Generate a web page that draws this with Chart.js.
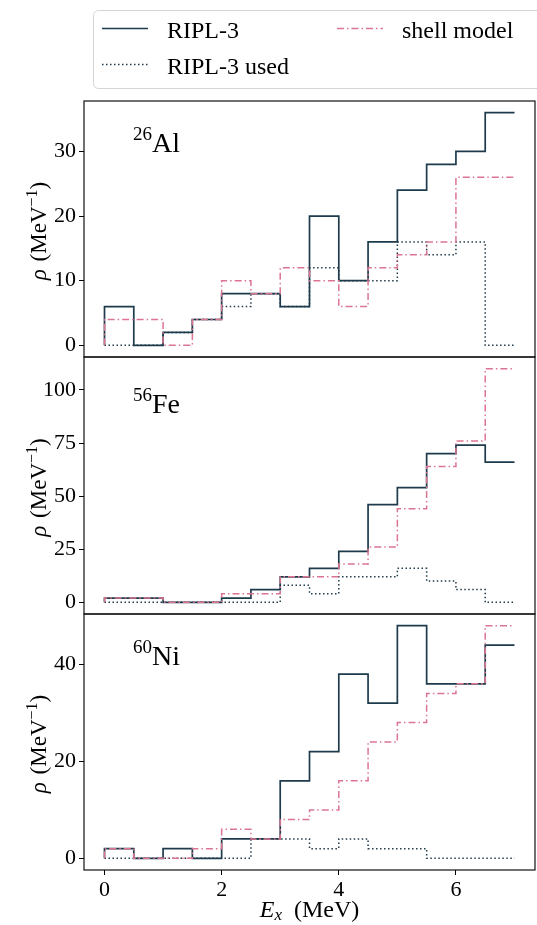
<!DOCTYPE html>
<html><head><meta charset="utf-8">
<script src="https://cdn.jsdelivr.net/npm/chart.js@4.4.1/dist/chart.umd.min.js"></script>
<style>
html,body{margin:0;padding:0;background:#fff;}
#wrap{position:relative;width:537px;height:925px;overflow:hidden;background:#fff;}
canvas{position:absolute;left:0;}
#legend{position:absolute;left:0;top:0;}
</style></head><body>
<div id="wrap">
<canvas id="c1" style="top:81px" width="537" height="296"></canvas>
<canvas id="c2" style="top:337px" width="537" height="297"></canvas>
<canvas id="c3" style="top:594px" width="537" height="331"></canvas>
<svg id="legend" width="537" height="95" xmlns="http://www.w3.org/2000/svg"></svg>
</div>
<script>
// ---- data ----
const energyEdges = [0, 0.5, 1, 1.5, 2, 2.5, 3, 3.5, 4, 4.5, 5, 5.5, 6, 6.5, 7];
const xTicks = [0, 2, 4, 6];
const seriesNames = ['RIPL-3', 'RIPL-3 used', 'shell model'];

const alRipl  = [6, 0, 2, 4, 8, 8, 6, 20, 10, 16, 24, 28, 30, 36];
const alUsed  = [0, 0, 2, 4, 6, 8, 6, 12, 10, 10, 16, 14, 16, 0];
const alShell = [4, 4, 0, 4, 10, 8, 12, 10, 6, 12, 14, 16, 26, 26];
const alTicks = [0, 10, 20, 30];

const feRipl  = [2, 2, 0, 0, 2, 6, 12, 16, 24, 46, 54, 70, 74, 66];
const feUsed  = [0, 0, 0, 0, 0, 0, 8, 4, 12, 12, 16, 10, 6, 0];
const feShell = [2, 2, 0, 0, 4, 4, 12, 12, 18, 26, 44, 64, 76, 110];
const feTicks = [0, 25, 50, 75, 100];

const niRipl  = [2, 0, 2, 0, 4, 4, 16, 22, 38, 32, 48, 36, 36, 44];
const niUsed  = [0, 0, 0, 0, 0, 4, 4, 2, 4, 2, 2, 0, 0, 0];
const niShell = [2, 0, 0, 2, 6, 4, 8, 10, 16, 24, 28, 34, 36, 48];
const niTicks = [0, 20, 40];

const massNumbers = ['26', '56', '60'];
const elementSymbols = ['Al', 'Fe', 'Ni'];

// ---- styling ----
const C_DARK = '#1e3b4c';
const C_PINK = '#dc7592';
const FONT = '"Liberation Serif", "Times New Roman", serif';
const DOTTED = [1.5, 2.5];
const DASHDOT = [7, 3, 1.5, 3];

function stepPoints(bins) {
  return energyEdges.map((x, i) => ({ x: x, y: i === 0 ? 0 : bins[i - 1] }));
}

function drawRich(ctx, parts, x, y, center) {
  let total = 0;
  parts.forEach(p => { ctx.font = p.f; p.w = ctx.measureText(p.t).width + (p.gap || 0); total += p.w; });
  let cx = center ? x - total / 2 : x;
  parts.forEach(p => {
    ctx.font = p.f;
    ctx.fillText(p.t, cx, y + (p.dy || 0));
    cx += p.w;
  });
}

const framePlugin = {
  id: 'frame',
  afterDatasetsDraw(chart) {
    const a = chart.chartArea, ctx = chart.ctx;
    ctx.save();
    ctx.strokeStyle = '#111';
    ctx.lineWidth = 1.2;
    ctx.strokeRect(a.left, a.top, a.right - a.left, a.bottom - a.top);
    ctx.restore();
  }
};

const textPlugin = {
  id: 'texts',
  afterDraw(chart, args, opts) {
    const a = chart.chartArea, ctx = chart.ctx;
    ctx.save();
    ctx.fillStyle = '#000';
    ctx.textBaseline = 'alphabetic';
    ctx.textAlign = 'left';
    // y-axis title
    ctx.save();
    ctx.translate(46, (a.top + a.bottom) / 2 + 2);
    ctx.rotate(-Math.PI / 2);
    drawRich(ctx, [
      { t: 'ρ', f: 'italic 23px ' + FONT, gap: 2 },
      { t: ' (MeV', f: '23px ' + FONT },
      { t: '−1', f: '16px ' + FONT, dy: -9 },
      { t: ')', f: '23px ' + FONT }
    ], 0, 0, true);
    ctx.restore();
    // nucleus label
    drawRich(ctx, [
      { t: opts.mass, f: '19px ' + FONT, dy: -12 },
      { t: opts.symbol, f: '28px ' + FONT }
    ], a.left + 49, a.top + opts.labelY, false);
    // x-axis title
    if (opts.showX) {
      drawRich(ctx, [
        { t: 'E', f: 'italic 24px ' + FONT },
        { t: 'x', f: 'italic 17px ' + FONT, dy: 3, gap: 6 },
        { t: ' (MeV)', f: '24px ' + FONT }
      ], (a.left + a.right) / 2, a.bottom + 47, true);
    }
    ctx.restore();
  }
};

function makeChart(id, cfg) {
  return new Chart(document.getElementById(id), {
    type: 'line',
    data: {
      datasets: [
        { label: seriesNames[0], data: stepPoints(cfg.ripl), borderColor: C_DARK, borderWidth: 1.7,
          stepped: 'after', pointRadius: 0, fill: false, order: 3 },
        { label: seriesNames[1], data: stepPoints(cfg.used), borderColor: C_DARK, borderWidth: 1.5,
          borderDash: DOTTED, stepped: 'after', pointRadius: 0, fill: false, order: 2 },
        { label: seriesNames[2], data: stepPoints(cfg.shell), borderColor: C_PINK, borderWidth: 1.5,
          borderDash: DASHDOT, stepped: 'after', pointRadius: 0, fill: false, order: 1 }
      ]
    },
    options: {
      responsive: false,
      animation: false,
      events: [],
      layout: { padding: { top: 20, bottom: cfg.showX ? 0 : 20, left: 0, right: 2 } },
      plugins: {
        legend: { display: false },
        tooltip: { enabled: false },
        texts: { mass: cfg.mass, symbol: cfg.symbol, labelY: cfg.labelY, showX: cfg.showX }
      },
      scales: {
        x: {
          type: 'linear', min: -0.35, max: 7.35, display: cfg.showX,
          afterBuildTicks: s => { s.ticks = xTicks.map(v => ({ value: v })); },
          afterFit: s => { s.height = cfg.showX ? 55 : 0; },
          grid: { drawOnChartArea: false, drawTicks: true, tickLength: 5, color: '#000', lineWidth: 1 },
          border: { display: false },
          ticks: { font: { family: FONT, size: 22 }, color: '#000', padding: 2, maxRotation: 0 }
        },
        y: {
          type: 'linear', min: cfg.min, max: cfg.max,
          afterBuildTicks: s => { s.ticks = cfg.ticks.map(v => ({ value: v })); },
          afterFit: s => { s.width = 84; },
          grid: { drawOnChartArea: false, drawTicks: true, tickLength: 5, color: '#000', lineWidth: 1 },
          border: { display: false },
          ticks: { font: { family: FONT, size: 22 }, color: '#000', padding: 3 }
        }
      }
    },
    plugins: [framePlugin, textPlugin]
  });
}

makeChart('c1', { ripl: alRipl, used: alUsed, shell: alShell, ticks: alTicks, min: -1.8, max: 37.8,
  mass: massNumbers[0], symbol: elementSymbols[0], labelY: 51, showX: false });
makeChart('c2', { ripl: feRipl, used: feUsed, shell: feShell, ticks: feTicks, min: -5.5, max: 115.5,
  mass: massNumbers[1], symbol: elementSymbols[1], labelY: 56, showX: false });
makeChart('c3', { ripl: niRipl, used: niUsed, shell: niShell, ticks: niTicks, min: -2.4, max: 50.4,
  mass: massNumbers[2], symbol: elementSymbols[2], labelY: 51, showX: true });

// ---- legend ----
(function () {
  const svg = document.getElementById('legend');
  const NS = 'http://www.w3.org/2000/svg';
  function el(tag, attrs, text) {
    const e = document.createElementNS(NS, tag);
    for (const k in attrs) e.setAttribute(k, attrs[k]);
    if (text) e.textContent = text;
    svg.appendChild(e);
    return e;
  }
  el('rect', { x: 93.5, y: 10.5, width: 470, height: 78, rx: 5, fill: '#fff', stroke: '#d4d4d4', 'stroke-width': 1 });
  const items = [
    { name: seriesNames[0], x: 102, y: 28.5, color: C_DARK, dash: null, w: 1.7 },
    { name: seriesNames[1], x: 102, y: 64.5, color: C_DARK, dash: DOTTED, w: 1.5 },
    { name: seriesNames[2], x: 337, y: 28.5, color: C_PINK, dash: DASHDOT, w: 1.5 }
  ];
  items.forEach(it => {
    const la = { x1: it.x, y1: it.y, x2: it.x + 46, y2: it.y, stroke: it.color, 'stroke-width': it.w };
    if (it.dash) la['stroke-dasharray'] = it.dash.join(' ');
    el('line', la);
    el('text', { x: it.x + 65, y: it.y + 9.5, 'font-family': 'Liberation Serif', 'font-size': 24, fill: '#000' }, it.name);
  });
})();
</script>
</body></html>
